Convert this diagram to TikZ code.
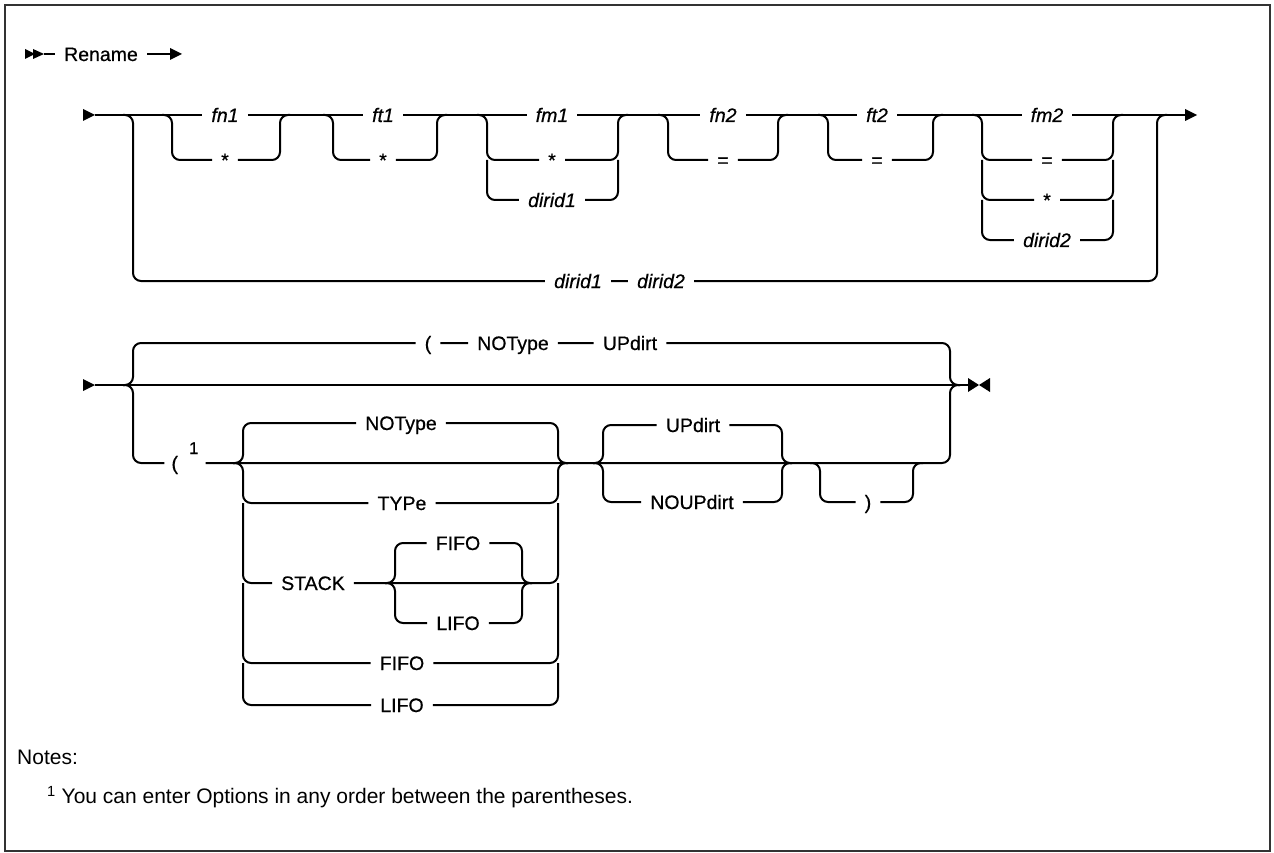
\documentclass[tikz,border=0pt]{standalone}
\usepackage{fontspec}
\setmainfont{Liberation Sans}
\newfontfamily\railfont[FakeBold=0.6]{Liberation Sans}
\usetikzlibrary{calc}

\tikzset{
  rail/.style={line width=2pt,rounded corners=8pt},
  lbl/.style={inner xsep=9pt,inner ysep=2pt,text height=14pt,text depth=0pt,
    font=\railfont\fontsize{19.5}{22}\selectfont},
  var/.style={lbl,font=\railfont\fontsize{19.5}{22}\selectfont\itshape},
  notetext/.style={anchor=west,inner sep=0pt,font=\fontsize{21}{25}\selectfont}
}

\begin{document}
\begin{tikzpicture}[x=1pt,y=-1pt]
\useasboundingbox (0,0) rectangle (1274,853);
\draw[line width=2pt,black!80] (5,5) rectangle (1270,851);
% ---------- title line ----------
\coordinate (rn0) at (44,54);
\coordinate (rn1) at (170,54);
\node[lbl] (ren) at (101,54) {Rename};
\fill (25,49) -- (35,54) -- (25,59) -- cycle;
\fill (33,49) -- (44,54) -- (33,59) -- cycle;
\draw[rail] (rn0) -- (ren) -- (rn1);
\fill (rn1) -- ++(0,-6) -- ++(12,6) -- ++(-12,6) -- cycle;
% ---------- row 1: file names ----------
\coordinate (r1s) at (95,115);
\coordinate (r1e) at (1185,115);
\foreach \n/\x in {b0/133,e0/1157,b1/172,m1/280,b2/333,m2/437,b3/487,m3/618,
                   b4/668,m4/778,b5/828,m5/933,b6/982,m6/1113}
  \coordinate (\n) at (\x,115);
\node[var] (fn1)  at (225,115) {fn1};
\node[lbl] (fn1s) at (225,160) {*};
\node[var] (ft1)  at (383,115) {ft1};
\node[lbl] (ft1s) at (383,160) {*};
\node[var] (fm1)  at (552,115) {fm1};
\node[lbl] (fm1s) at (552,160) {*};
\node[var] (fm1d) at (552,200) {dirid1};
\node[var] (fn2)  at (723,115) {fn2};
\node[lbl] (fn2e) at (723,160) {=};
\node[var] (ft2)  at (877,115) {ft2};
\node[lbl] (ft2e) at (877,160) {=};
\node[var] (fm2)  at (1047,115) {fm2};
\node[lbl] (fm2e) at (1047,160) {=};
\node[lbl] (fm2s) at (1047,200) {*};
\node[var] (fm2d) at (1047,240) {dirid2};
\node[var] (byd1) at (578,281) {dirid1};
\node[var] (byd2) at (661,281) {dirid2};
\fill (r1s) -- ++(-12,-6) -- ++(0,12) -- cycle;
\draw[rail] (r1s) -- (fn1) -- (ft1) -- (fm1) -- (fn2) -- (ft2) -- (fm2) -- (r1e);
\fill (r1e) -- ++(0,-6) -- ++(12,6) -- ++(-12,6) -- cycle;
% two-way choices
\foreach \lo/\hi/\alt in {b1/m1/fn1s,b2/m2/ft1s,b3/m3/fm1s,b4/m4/fn2e,b5/m5/ft2e,b6/m6/fm2e}
  \draw[rail] ([xshift=-10pt]\lo) -- (\lo) |- (\alt) -| (\hi) -- ([xshift=10pt]\hi);
% extra rows
\draw[rail] (b3 |- fm1s) |- (fm1d) -| (m3 |- fm1s);
\draw[rail] (b6 |- fm2e) |- (fm2s) -| (m6 |- fm2e);
\draw[rail] (b6 |- fm2s) |- (fm2d) -| (m6 |- fm2s);
% bypass with directory ids
\draw[rail] ([xshift=-10pt]b0) -- (b0) |- (byd1) -- (byd2) -| (e0) -- ([xshift=10pt]e0);
% ---------- row 2: options ----------
\coordinate (r2s) at (95,385);
\coordinate (r2e) at (968,385);
\coordinate (c0) at (133,385);
\coordinate (c9) at (950,385);
\foreach \n/\x in {g0/243,g9/558,u0/603,u9/782,q0/820,q9/913}
  \coordinate (\n) at (\x,463);
\coordinate (h0) at (395,583);
\coordinate (h9) at (522,583);
\node[lbl] (lp1)  at (428,343) {(};
\node[lbl] (nt1)  at (513,343) {NOType};
\node[lbl] (up1)  at (630,343) {UPdirt};
\node[lbl,inner xsep=7pt] (lp2) at (185,463) {(\hspace{11pt}\raisebox{16pt}{\fontsize{17}{17}\selectfont 1}};
\node[lbl] (nt2)  at (401,423) {NOType};
\node[lbl] (typ)  at (402,503) {TYPe};
\node[lbl] (stk)  at (313,583) {STACK};
\node[lbl] (fif1) at (458,543) {FIFO};
\node[lbl] (lif1) at (458,623) {LIFO};
\node[lbl] (fif2) at (402,663) {FIFO};
\node[lbl] (lif2) at (402,705) {LIFO};
\node[lbl] (upd)  at (693,425) {UPdirt};
\node[lbl] (nupd) at (692,502) {NOUPdirt};
\node[lbl] (rp)   at (868,502) {)};
\fill (r2s) -- ++(-12,-6) -- ++(0,12) -- cycle;
\draw[rail] (r2s) -- (r2e);
\fill (r2e) -- ++(0,-7) -- ++(11,7) -- ++(-11,7) -- cycle;
\fill ([xshift=22pt]r2e) -- ++(0,-7) -- ++(-11,7) -- ++(11,7) -- cycle;
% outer choice
\draw[rail] ([xshift=-10pt]c0) -- (c0) |- (lp1) -- (nt1) -- (up1) -| (c9) -- ([xshift=10pt]c9);
\draw[rail] ([xshift=-10pt]c0) -- (c0) |- (lp2);
\draw[rail] (lp2) -| (c9) -- ([xshift=10pt]c9);
% type / stack choice
\foreach \alt in {nt2,typ}
  \draw[rail] ([xshift=-10pt]g0) -- (g0) |- (\alt) -| (g9) -- ([xshift=10pt]g9);
\draw[rail] (g0 |- typ) |- (stk) -| (g9 |- typ);
\draw[rail] (g0 |- stk) |- (fif2) -| (g9 |- stk);
\draw[rail] (g0 |- fif2) |- (lif2) -| (g9 |- fif2);
\foreach \alt in {fif1,lif1}
  \draw[rail] ([xshift=-10pt]h0) -- (h0) |- (\alt) -| (h9) -- ([xshift=10pt]h9);
% updirt and closing parenthesis
\foreach \alt in {upd,nupd}
  \draw[rail] ([xshift=-10pt]u0) -- (u0) |- (\alt) -| (u9) -- ([xshift=10pt]u9);
\draw[rail] ([xshift=-10pt]q0) -- (q0) |- (rp) -| (q9) -- ([xshift=10pt]q9);
% ---------- notes ----------
\node[notetext] (notes) at (17,757) {Notes:};
\node[notetext] (note1) at (47,797) {\textsuperscript{1} You can enter Options in any order between the parentheses.};
\end{tikzpicture}
\end{document}
